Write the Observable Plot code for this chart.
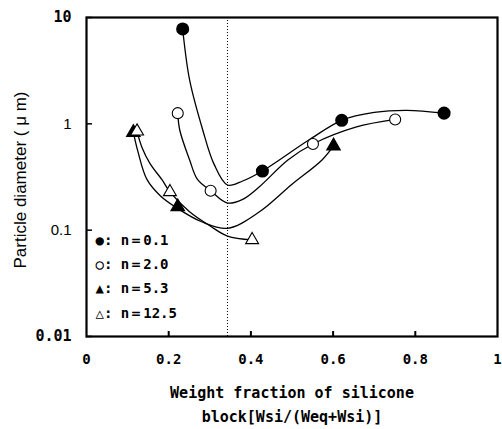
<!DOCTYPE html>
<html><head><meta charset="utf-8">
<script src="https://cdn.jsdelivr.net/npm/d3@7"></script>
<script src="https://cdn.jsdelivr.net/npm/@observablehq/plot@0.6"></script>
<style>html,body{margin:0;padding:0;background:#fff;overflow:hidden}svg{display:block}</style>
</head><body><div id="chart"></div>
<script>
// ---- tick values ----
const xTicks = [0, 0.2, 0.4, 0.6, 0.8, 1];
const xInnerTicks = [0.2, 0.4, 0.6, 0.8];
const yTicks = [0.01, 0.1, 1, 10];
const yBoldTicks = [0.01, 10];
const yPlainTicks = [0.1, 1];
const verticalLineX = [0.343];

// ---- legend ----
const legendLines = ["●: n＝0.1", "○: n＝2.0", "▲: n＝5.3", "△: n＝12.5"];

// ---- measured points ----
const n01X = [0.234, 0.428, 0.621, 0.870];
const n01Y = [7.8, 0.36, 1.08, 1.26];
const n20X = [0.222, 0.302, 0.551, 0.751];
const n20Y = [1.26, 0.235, 0.646, 1.10];
const n53X = [0.114, 0.222, 0.601];
const n53Y = [0.83, 0.166, 0.62];
const n125X = [0.123, 0.203, 0.403];
const n125Y = [0.85, 0.229, 0.081];

// ---- fitted curves ----
const c01X = [0.234, 0.251, 0.283, 0.310, 0.343, 0.380, 0.428, 0.540, 0.621, 0.700, 0.780, 0.870];
const c01Y = [7.8, 2.57, 0.87, 0.42, 0.266, 0.29, 0.36, 0.70, 1.08, 1.28, 1.34, 1.26];
const c20X = [0.222, 0.227, 0.251, 0.270, 0.302, 0.343, 0.380, 0.420, 0.490, 0.551, 0.655, 0.751];
const c20Y = [1.26, 0.87, 0.457, 0.30, 0.235, 0.18, 0.195, 0.255, 0.457, 0.646, 0.93, 1.10];
const c53X = [0.114, 0.125, 0.147, 0.180, 0.222, 0.280, 0.343, 0.420, 0.500, 0.573, 0.601];
const c53Y = [0.83, 0.55, 0.30, 0.21, 0.16, 0.12, 0.104, 0.148, 0.27, 0.457, 0.62];
const c125X = [0.123, 0.135, 0.155, 0.184, 0.203, 0.250, 0.300, 0.343, 0.403];
const c125Y = [0.85, 0.60, 0.42, 0.297, 0.229, 0.15, 0.11, 0.088, 0.081];

const toRows = (xs, ys) => xs.map((x, i) => ({x, y: ys[i]}));
const curves = [
  toRows(c01X, c01Y), toRows(c20X, c20Y), toRows(c53X, c53Y), toRows(c125X, c125Y)
];

const sans = "Liberation Sans, Arial, sans-serif";
const mono = "DejaVu Sans Mono, monospace";

const chart = Plot.plot({
  width: 502,
  height: 429,
  marginLeft: 86,
  marginRight: 5,
  marginTop: 17,
  marginBottom: 93,
  style: {background: "#fff", color: "#000", overflow: "visible"},
  x: {domain: [0, 1]},
  y: {type: "log", domain: [0.01, 10]},
  marks: [
    Plot.ruleX(verticalLineX, {stroke: "#000", strokeWidth: 1, strokeDasharray: "1,2"}),
    ...curves.map(c => Plot.line(c, {x: "x", y: "y", curve: "catmull-rom", stroke: "#000", strokeWidth: 1.3})),
    Plot.dot(toRows(n01X, n01Y), {x: "x", y: "y", r: 5.8, fill: "#000", stroke: "#000"}),
    Plot.dot(toRows(n20X, n20Y), {x: "x", y: "y", r: 5.5, fill: "#fff", stroke: "#000", strokeWidth: 1.1}),
    Plot.dot(toRows(n53X, n53Y), {x: "x", y: "y", r: 4.8, symbol: "triangle", fill: "#000", stroke: "#000"}),
    Plot.dot(toRows(n125X, n125Y), {x: "x", y: "y", r: 4.8, symbol: "triangle", fill: "#fff", stroke: "#000", strokeWidth: 1.1}),
    Plot.frame({stroke: "#000", strokeWidth: 2.2}),
    // inward tick marks
    Plot.axisX(xInnerTicks, {tickSize: -5, text: null, label: null, strokeWidth: 2}),
    Plot.axisY(yTicks, {tickSize: -6, text: null, label: null, strokeWidth: 1.5}),
    // tick labels
    Plot.axisX(xTicks, {tickSize: 0, tickPadding: 18, label: null, fontSize: 14, fontWeight: "bold", fontFamily: mono, tickFormat: d => String(d)}),
    Plot.axisY(yBoldTicks, {tickSize: 0, tickPadding: 15, label: null, fontSize: 15, fontWeight: "bold", fontFamily: mono, tickFormat: d => String(d)}),
    Plot.axisY(yPlainTicks, {tickSize: 0, tickPadding: 15, label: null, fontSize: 15, fontFamily: sans, tickFormat: d => String(d)}),
    // legend inside plot
    Plot.text([legendLines.join("\n")], {frameAnchor: "bottom-left", text: d => d, textAnchor: "start", lineAnchor: "bottom",
      dx: 9, dy: -19, fontSize: 14, fontWeight: "bold", fontFamily: mono, lineHeight: 1.72, fill: "#000"}),
    // axis titles
    Plot.text(["Particle diameter ( μ m)"], {frameAnchor: "left", text: d => d, textAnchor: "middle", rotate: -90, dx: -66, dy: 3,
      fontSize: 17, fontFamily: sans, fill: "#000"}),
    Plot.text(["Weight fraction of silicone\nblock[Wsi/(Weq+Wsi)]"], {frameAnchor: "bottom", text: d => d, lineAnchor: "middle",
      dy: 66, dx: 0, fontSize: 15, fontWeight: "bold", fontFamily: mono, lineHeight: 1.55, fill: "#000"})
  ]
});
document.getElementById("chart").appendChild(chart);
</script>
</body></html>
